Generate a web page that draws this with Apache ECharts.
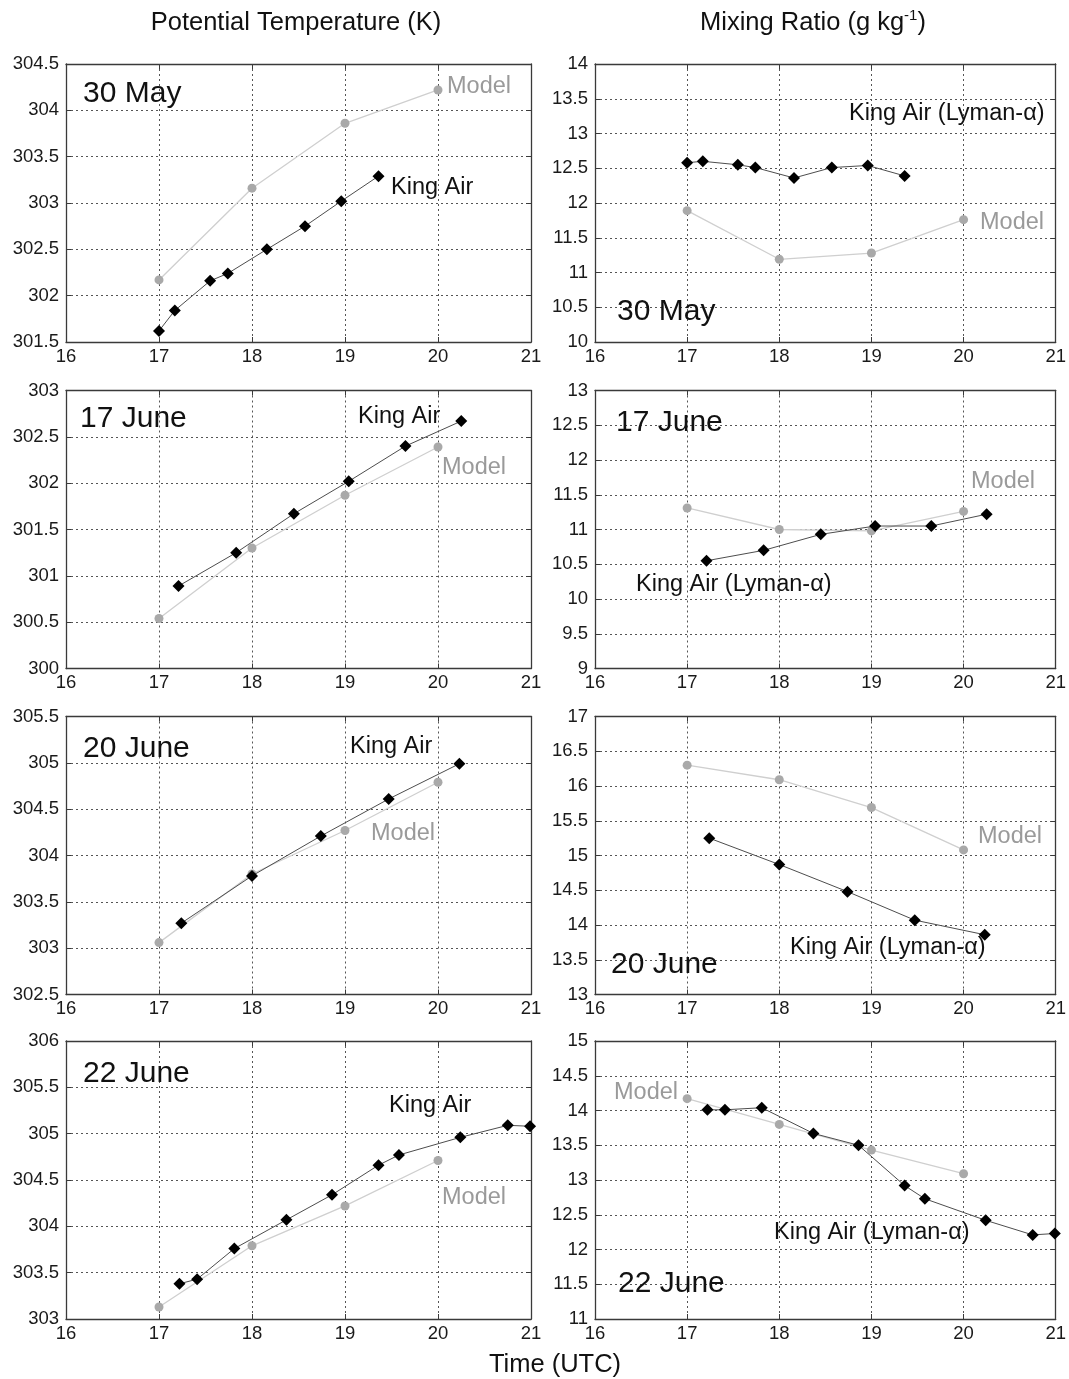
<!DOCTYPE html>
<html><head><meta charset="utf-8">
<script src="https://cdn.jsdelivr.net/npm/echarts@6/dist/echarts.min.js"></script>
<style>html,body{margin:0;padding:0;background:#fff}#c{width:1069px;height:1379px}</style>
</head><body><div id="c"></div>
<script>
// ---------- DATA ----------
const xTicks = [16, 17, 18, 19, 20, 21];
const dates = ['30 May', '17 June', '20 June', '22 June'];
const modelTime = [17, 18, 19, 20];

const thetaMin = [301.5, 300, 302.5, 303];
const thetaMax = [304.5, 303, 305.5, 306];
const mixMin = [10, 9, 13, 11];
const mixMax = [14, 13, 17, 15];

// 30 May
const kingAirTime30May = [17.0, 17.17, 17.55, 17.74, 18.16, 18.57, 18.96, 19.36];
const kingAirTheta30May = [301.62, 301.84, 302.16, 302.24, 302.50, 302.75, 303.02, 303.29];
const kingAirMix30May = [12.58, 12.60, 12.55, 12.51, 12.36, 12.51, 12.54, 12.39];
const modelTheta30May = [302.17, 303.16, 303.86, 304.22];
const modelMix30May = [11.89, 11.19, 11.28, 11.76];

// 17 June
const kingAirTime17Jun = [17.21, 17.83, 18.45, 19.04, 19.65, 20.25];
const kingAirTheta17Jun = [300.89, 301.25, 301.67, 302.02, 302.40, 302.67];
const kingAirMix17Jun = [10.55, 10.70, 10.93, 11.05, 11.05, 11.22];
const modelTheta17Jun = [300.54, 301.30, 301.87, 302.39];
const modelMix17Jun = [11.31, 11.00, 10.98, 11.26];

// 20 June
const kingAirTime20Jun = [17.24, 18.0, 18.74, 19.47, 20.23];
const kingAirTheta20Jun = [303.27, 303.78, 304.21, 304.61, 304.99];
const kingAirMix20Jun = [15.25, 14.87, 14.48, 14.07, 13.86];
const modelTheta20Jun = [303.06, 303.80, 304.27, 304.79];
const modelMix20Jun = [16.30, 16.09, 15.69, 15.08];

// 22 June
const kingAirTime22Jun = [17.22, 17.41, 17.81, 18.37, 18.86, 19.36, 19.58, 20.24, 20.75, 20.99];
const kingAirTheta22Jun = [303.38, 303.43, 303.76, 304.07, 304.34, 304.66, 304.77, 304.96, 305.09, 305.08];
const kingAirMix22Jun = [14.01, 14.01, 14.04, 13.67, 13.50, 12.92, 12.73, 12.42, 12.21, 12.23];
const modelTheta22Jun = [303.13, 303.79, 304.22, 304.71];
const modelMix22Jun = [14.17, 13.80, 13.43, 13.09];

// ---------- LAYOUT ----------
const FONT = '"Liberation Sans", Arial, sans-serif';
const rowTop = [64, 390.5, 716.5, 1041];
const rowH = 278;
const colLeft = [66, 595];
const colW = [465, 463];

const panels = [
  { kt: kingAirTime30May, kv: kingAirTheta30May, mv: modelTheta30May, min: thetaMin[0], max: thetaMax[0] },
  { kt: kingAirTime30May, kv: kingAirMix30May, mv: modelMix30May, min: mixMin[0], max: mixMax[0] },
  { kt: kingAirTime17Jun, kv: kingAirTheta17Jun, mv: modelTheta17Jun, min: thetaMin[1], max: thetaMax[1] },
  { kt: kingAirTime17Jun, kv: kingAirMix17Jun, mv: modelMix17Jun, min: mixMin[1], max: mixMax[1] },
  { kt: kingAirTime20Jun, kv: kingAirTheta20Jun, mv: modelTheta20Jun, min: thetaMin[2], max: thetaMax[2] },
  { kt: kingAirTime20Jun, kv: kingAirMix20Jun, mv: modelMix20Jun, min: mixMin[2], max: mixMax[2] },
  { kt: kingAirTime22Jun, kv: kingAirTheta22Jun, mv: modelTheta22Jun, min: thetaMin[3], max: thetaMax[3] },
  { kt: kingAirTime22Jun, kv: kingAirMix22Jun, mv: modelMix22Jun, min: mixMin[3], max: mixMax[3] }
];

const grids = [], xAxes = [], yAxes = [], series = [];
const axisLineStyle = { color: '#3a3a3a', width: 1.3 };
const labelStyle = { color: '#1a1a1a', fontSize: 18.5, fontFamily: FONT };

panels.forEach((p, i) => {
  const r = Math.floor(i / 2), c = i % 2;
  grids.push({ left: colLeft[c], top: rowTop[r], width: colW[c], height: rowH });
  xAxes.push({
    type: 'value', gridIndex: i, min: xTicks[0], max: xTicks[xTicks.length - 1], interval: 1,
    position: 'bottom',
    axisLine: { show: true, lineStyle: axisLineStyle },
    axisTick: { show: true, inside: true, length: 5, lineStyle: { color: '#3a3a3a' } },
    axisLabel: Object.assign({ margin: 5 }, labelStyle),
    splitLine: { show: true, lineStyle: { type: [2, 3], color: '#555', width: 1 } }
  });
  xAxes.push({
    type: 'value', gridIndex: i, min: xTicks[0], max: xTicks[xTicks.length - 1], interval: 1,
    position: 'top',
    axisLine: { show: true, lineStyle: axisLineStyle },
    axisTick: { show: true, inside: true, length: 5, lineStyle: { color: '#3a3a3a' } },
    axisLabel: { show: false }, splitLine: { show: false }
  });
  yAxes.push({
    type: 'value', gridIndex: i, min: p.min, max: p.max, interval: 0.5,
    position: 'left',
    axisLine: { show: true, lineStyle: axisLineStyle },
    axisTick: { show: true, inside: true, length: 5, lineStyle: { color: '#3a3a3a' } },
    axisLabel: Object.assign({ margin: 7, padding: [0, 0, 7, 0] }, labelStyle),
    splitLine: { show: true, lineStyle: { type: [2, 3], color: '#555', width: 1 } }
  });
  yAxes.push({
    type: 'value', gridIndex: i, min: p.min, max: p.max, interval: 0.5,
    position: 'right',
    axisLine: { show: true, lineStyle: axisLineStyle },
    axisTick: { show: true, inside: true, length: 5, lineStyle: { color: '#3a3a3a' } },
    axisLabel: { show: false }, splitLine: { show: false }
  });
  series.push({
    name: 'Model', type: 'line', xAxisIndex: i * 2, yAxisIndex: i * 2,
    data: modelTime.map((t, k) => [t, p.mv[k]]),
    symbol: 'circle', symbolSize: 9, clip: false,
    lineStyle: { color: '#cfcfcf', width: 1.3 },
    itemStyle: { color: '#a9a9a9' },
    z: 3
  });
  series.push({
    name: 'King Air', type: 'line', xAxisIndex: i * 2, yAxisIndex: i * 2,
    data: p.kt.map((t, k) => [t, p.kv[k]]),
    symbol: 'diamond', symbolSize: [12, 12], clip: false,
    lineStyle: { color: '#4d4d4d', width: 1 },
    itemStyle: { color: '#000' },
    z: 4
  });
});

function txt(x, y, s, size, color) {
  return { type: 'text', x: x, y: y, z: 100,
    style: { text: s, fill: color || '#111', font: size + 'px ' + FONT, align: 'left', verticalAlign: 'middle' } };
}
const KA = 'King Air', KAL = 'King Air (Lyman-\u03b1)', MD = 'Model', GR = '#9a9a9a';
const AN = 23.5, DT = 30;
const graphics = [
  { type: 'text', x: 296, y: 23, style: { text: 'Potential Temperature (K)', fill: '#111', font: '25.5px ' + FONT, align: 'center', verticalAlign: 'middle' } },
  { type: 'text', x: 813, y: 23, style: { text: 'Mixing Ratio (g kg{sup|-1})', fill: '#111', font: '25.5px ' + FONT, align: 'center', verticalAlign: 'middle',
      rich: { sup: { fontSize: 15, fontFamily: FONT, fill: '#111', verticalAlign: 'top', lineHeight: 30, padding: [0, 0, 16, 0] } } } },
  { type: 'text', x: 555, y: 1365, style: { text: 'Time (UTC)', fill: '#111', font: '25.5px ' + FONT, align: 'center', verticalAlign: 'middle' } },
  txt(83, 94, dates[0], DT), txt(447, 87, MD, AN, GR), txt(391, 188, KA, AN),
  txt(849, 114, KAL, AN), txt(980, 223, MD, AN, GR), txt(617, 312, dates[0], DT),
  txt(80, 419, dates[1], DT), txt(358, 417, KA, AN), txt(442, 468, MD, AN, GR),
  txt(616, 423, dates[1], DT), txt(971, 482, MD, AN, GR), txt(636, 585, KAL, AN),
  txt(83, 749, dates[2], DT), txt(350, 747, KA, AN), txt(371, 834, MD, AN, GR),
  txt(978, 837, MD, AN, GR), txt(790, 948, KAL, AN), txt(611, 965, dates[2], DT),
  txt(83, 1074, dates[3], DT), txt(389, 1106, KA, AN), txt(442, 1198, MD, AN, GR),
  txt(614, 1093, MD, AN, GR), txt(774, 1233, KAL, AN), txt(618, 1284, dates[3], DT)
];

const chart = echarts.init(document.getElementById('c'), null, { renderer: 'canvas' });
chart.setOption({
  backgroundColor: '#fff',
  animation: false,
  grid: grids, xAxis: xAxes, yAxis: yAxes, series: series,
  graphic: graphics
});
</script></body></html>
